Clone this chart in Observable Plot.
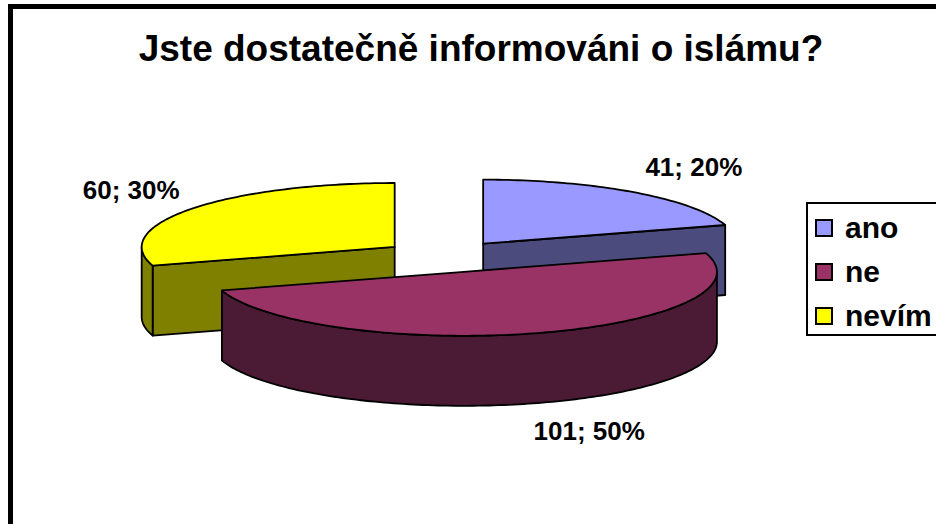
<!DOCTYPE html>
<html>
<head>
<meta charset="utf-8">
<script src="https://cdn.jsdelivr.net/npm/d3@7"></script>
<script src="https://cdn.jsdelivr.net/npm/@observablehq/plot@0.6"></script>
<style>
  html, body { margin: 0; padding: 0; background: #fff; width: 936px; height: 524px; overflow: hidden; position: relative; }
  #frame { position: absolute; left: 8px; top: 4px; width: 1200px; height: 1200px; border: 5px solid #000; box-sizing: border-box; pointer-events: none; }
  #title { position: absolute; left: 481px; top: 28px; transform: translateX(-50%); white-space: nowrap;
    font: bold 37px "Liberation Sans", Arial, sans-serif; color: #000; }
  #chart { position: absolute; left: 0; top: 90px; }
  #legend { position: absolute; left: 806px; top: 202px; width: 300px; height: 134px; border: 2px solid #000; box-sizing: border-box; background: #fff; padding-top: 2px; }
  .row { height: 44px; display: flex; align-items: center; font: bold 30px "Liberation Sans", Arial, sans-serif; }
  .sw { width: 14px; height: 14px; border: 2px solid #000; margin-left: 7px; margin-right: 12px; flex: none; }
</style>
</head>
<body>
<div id="title">Jste dostatečně informováni o islámu?</div>
<div id="chart"></div>
<div id="legend"></div>
<div id="frame"></div>
<script>
// ---- data ----
const categories = ["ano", "ne", "nevím"];
const counts = [41, 101, 60];
const topColors = ["#9999FF", "#993366", "#FFFF00"];
const sideColors = ["#4B4B7E", "#4B1A35", "#808000"];

// ---- geometry helpers (unit ellipse; y unit = vertical radius) ----
const EXPLODE = 0.25;
const DEPTH = 70 / 64;
const total = d3.sum(counts);
const slices = [];
let acc = 0;
counts.forEach((v, i) => {
  const a0 = acc / total * 2 * Math.PI;
  acc += v;
  const a1 = acc / total * 2 * Math.PI;
  const mid = (a0 + a1) / 2;
  slices.push({i, a0, a1, mid, ox: EXPLODE * Math.sin(mid), oy: -EXPLODE * Math.cos(mid)});
});

function pt(s, a, r, d) {
  return {x: s.ox + r * Math.sin(a), y: s.oy - r * Math.cos(a) + d};
}
function arc(s, from, to, d) {
  const n = Math.max(2, Math.ceil(Math.abs(to - from) / 0.02));
  return d3.range(n + 1).map(k => pt(s, from + (to - from) * k / n, 1, d));
}

const faces = [];
// back slices first
const order = slices.slice().sort((p, q) => p.oy - q.oy);
for (const s of order) {
  // radial faces
  for (const [a, sign] of [[s.a0, -1], [s.a1, 1]]) {
    const normal = a + sign * Math.PI / 2;
    if (Math.cos(normal) < -1e-6) {
      const c0 = pt(s, 0, 0, 0), r0 = pt(s, a, 1, 0), r1 = pt(s, a, 1, DEPTH), c1 = pt(s, 0, 0, DEPTH);
      faces.push({fill: sideColors[s.i], points: [c0, r0, r1, c1, c0]});
    }
  }
  // outer wall (front half only)
  const from = Math.max(s.a0, Math.PI / 2), to = Math.min(s.a1, 3 * Math.PI / 2);
  if (to > from) {
    const topArc = arc(s, from, to, 0);
    const botArc = arc(s, to, from, DEPTH);
    faces.push({fill: sideColors[s.i], points: [...topArc, ...botArc, topArc[0]]});
  }
  // top face
  const c = pt(s, 0, 0, 0);
  faces.push({fill: topColors[s.i], points: [c, ...arc(s, s.a0, s.a1, 0), c]});
}

// labels
const labels = slices.map(s => {
  const pct = Math.round(counts[s.i] / total * 100);
  const front = Math.cos(s.mid) < 0;
  return {
    text: `${counts[s.i]}; ${pct}%`,
    x: 1.59 * Math.sin(s.mid) + 0.035 + (front ? 0.07 : 0),
    y: -1.72 * Math.cos(s.mid) + (front ? DEPTH : 0)
  };
});

const chart = Plot.plot({
  width: 936,
  height: 434,
  margin: 0,
  x: {domain: [-1, 1], range: [445 - 253, 445 + 253], axis: null},
  y: {domain: [-1, 1], range: [166 - 64, 166 + 64], axis: null},
  style: {background: "transparent", overflow: "visible"},
  marks: [
    ...faces.map(f => Plot.line(f.points, {
      x: "x", y: "y", fill: f.fill, stroke: "#000", strokeWidth: 1.8, strokeLinejoin: "round", curve: "linear"
    })),
    Plot.text(labels, {
      x: "x", y: "y", text: "text", fontSize: 26, fontWeight: "bold",
      fontFamily: "Liberation Sans, Arial, sans-serif", fill: "#000", textAnchor: "middle", lineAnchor: "middle"
    })
  ]
});
document.getElementById("chart").appendChild(chart);

// legend
const legend = document.getElementById("legend");
categories.forEach((c, i) => {
  const row = document.createElement("div");
  row.className = "row";
  const sw = document.createElement("span");
  sw.className = "sw";
  sw.style.background = topColors[i];
  row.appendChild(sw);
  row.appendChild(document.createTextNode(c));
  legend.appendChild(row);
});
</script>
</body>
</html>
